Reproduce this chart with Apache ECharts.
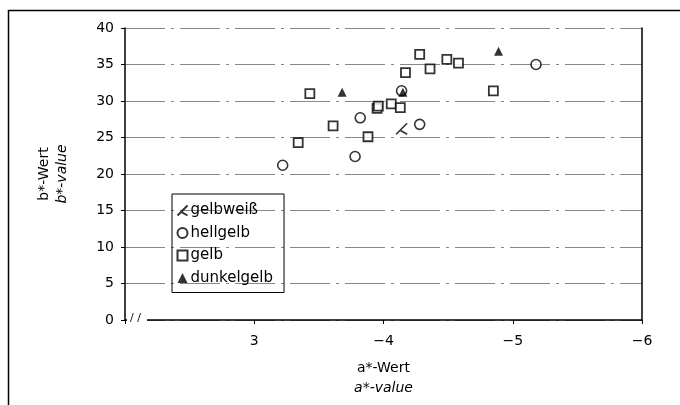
<!DOCTYPE html>
<html>
<head>
<meta charset="utf-8">
<script src="https://cdn.jsdelivr.net/npm/echarts@6/dist/echarts.min.js"></script>
<style>
  html, body { margin: 0; padding: 0; background: #fff; }
  #chart { width: 680px; height: 405px; }
</style>
</head>
<body>
<div id="chart"></div>
<script>
// a*-Wert (Betrag, Achse läuft von 2 bis 6) / b*-Wert
const gelbweiss = [[4.14, 26.2]];
const hellgelb = [[3.22, 21.2], [3.78, 22.4], [3.82, 27.7], [4.14, 31.4], [4.28, 26.8], [5.18, 35.0]];
const gelb = [
  [3.34, 24.3], [3.43, 31.0], [3.61, 26.6], [3.88, 25.1], [3.95, 29.0], [3.96, 29.3],
  [4.06, 29.6], [4.13, 29.1], [4.17, 33.9], [4.28, 36.4], [4.36, 34.4], [4.49, 35.7],
  [4.58, 35.2], [4.85, 31.4]
];
const dunkelgelb = [[3.68, 31.2], [4.15, 31.2], [4.89, 36.8]];

const seriesNames = ['gelbweiß', 'hellgelb', 'gelb', 'dunkelgelb'];
const xTicks = [2, 3, 4, 5, 6];
const xTickLabels = ['', '3', '\u22124', '\u22125', '\u22126'];
const yMin = 0, yMax = 40, yStep = 5;

const font = 'DejaVu Sans';
const chart = echarts.init(document.getElementById('chart'));

const option = {
  animation: false,
  backgroundColor: '#fff',
  textStyle: { fontFamily: font, color: '#000' },
  grid: { left: 125, right: 38, top: 28, bottom: 85 },
  legend: {
    orient: 'vertical',
    left: 172,
    top: 194,
    data: seriesNames,
    borderColor: '#000',
    borderWidth: 1,
    padding: [9, 11, 7, 3],
    itemGap: 7.5,
    itemWidth: 10,
    itemHeight: 10,
    textStyle: { fontFamily: font, fontSize: 15, lineHeight: 15, color: '#000', padding: [0, 0, 0, -2] }
  },
  xAxis: {
    type: 'value',
    min: xTicks[0],
    max: xTicks[xTicks.length - 1],
    interval: 1,
    name: '{a|a*-Wert}\n{b|a*-value}',
    nameLocation: 'middle',
    nameGap: 38,
    nameTextStyle: {
      rich: {
        a: { fontFamily: font, fontSize: 14, lineHeight: 20, color: '#000' },
        b: { fontFamily: font, fontSize: 14, lineHeight: 20, fontStyle: 'italic', color: '#000' }
      }
    },
    axisLine: { show: true, lineStyle: { color: '#000', width: 1.5 } },
    axisTick: { show: true, length: 4, lineStyle: { color: '#000' } },
    axisLabel: {
      margin: 14,
      fontSize: 14,
      color: '#000',
      formatter: v => xTickLabels[xTicks.indexOf(v)] || ''
    },
    splitLine: { show: false }
  },
  yAxis: [{
    type: 'value',
    min: yMin,
    max: yMax,
    interval: yStep,
    name: '{a|b*-Wert}\n{b|b*-value}',
    nameLocation: 'middle',
    nameRotate: 90,
    nameGap: 54,
    nameTextStyle: {
      rich: {
        a: { fontFamily: font, fontSize: 14, lineHeight: 18, color: '#000' },
        b: { fontFamily: font, fontSize: 14, lineHeight: 18, fontStyle: 'italic', color: '#000' }
      }
    },
    axisLine: { show: true, lineStyle: { color: '#000', width: 1.5 } },
    axisTick: { show: true, inside: false, length: 4, lineStyle: { color: '#000' } },
    axisLabel: { margin: 11, fontSize: 14, color: '#000' },
    splitLine: { show: true, lineStyle: { color: '#888', width: 1, type: [40, 6, 3, 6] } }
  }, {
    type: 'value',
    position: 'right',
    min: yMin,
    max: yMax,
    interval: yStep,
    axisLine: { show: true, lineStyle: { color: '#000', width: 1.5 } },
    axisTick: { show: false },
    axisLabel: { show: false },
    splitLine: { show: false }
  }],
  series: [
    {
      name: 'gelbweiß', type: 'scatter', data: gelbweiss,
      symbol: 'path://M10,0 L0,10 M3.6,6.4 L10,10', symbolSize: 11,
      itemStyle: { color: 'none', borderColor: '#000', borderWidth: 1.6 }
    },
    {
      name: 'hellgelb', type: 'scatter', data: hellgelb,
      symbol: 'circle', symbolSize: 10,
      itemStyle: { color: '#fff', borderColor: '#000', borderWidth: 1.6 }
    },
    {
      name: 'gelb', type: 'scatter', data: gelb,
      symbol: 'rect', symbolSize: 9,
      itemStyle: { color: '#fff', borderColor: '#000', borderWidth: 1.8 }
    },
    {
      name: 'dunkelgelb', type: 'scatter', data: dunkelgelb,
      symbol: 'triangle', symbolSize: 9,
      itemStyle: { color: '#000' }
    }
  ],
  graphic: [
    // äußerer Rahmen
    { type: 'rect', left: 6, top: 8, silent: true, z: -1,
      shape: { width: 673, height: 420 },
      style: { fill: 'none', stroke: '#000', lineWidth: 1.5 } },
    // Achsenbruch
    { type: 'rect', left: 127, top: 315, silent: true, z: 10,
      shape: { width: 20, height: 10 }, style: { fill: '#fff' } },
    { type: 'text', left: 130, top: 313, silent: true, z: 11,
      style: { text: '/ /', font: '11px ' + font, fill: '#000' } }
  ]
};

chart.setOption(option);
</script>
</body>
</html>
